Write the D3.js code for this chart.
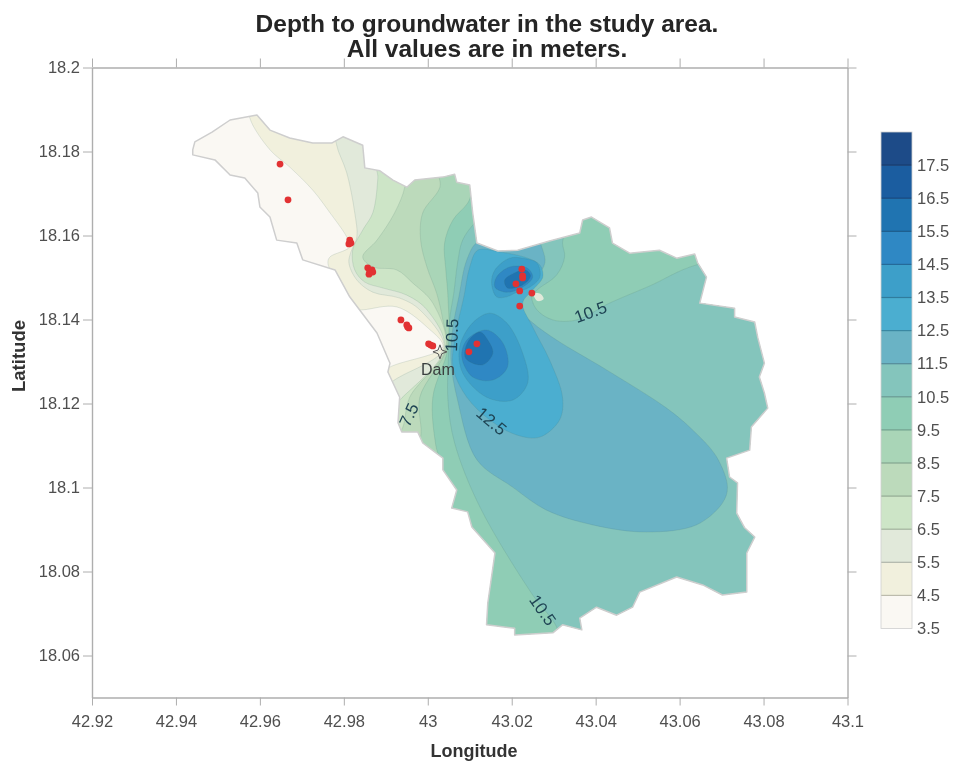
<!DOCTYPE html>
<html>
<head>
<meta charset="utf-8">
<script src="https://cdnjs.cloudflare.com/ajax/libs/d3/7.8.5/d3.min.js"></script>
<style>
html,body{margin:0;padding:0;background:#fff}
svg{display:block;filter:blur(0.45px)}
text{font-family:"Liberation Sans",Arial,sans-serif}
</style>
</head>
<body>
<svg id="chart" width="956" height="766"></svg>
<script>
const titleLines = ["Depth to groundwater in the study area.", "All values are in meters."];
const lonTicks = [42.92,42.94,42.96,42.98,43,43.02,43.04,43.06,43.08,43.1];
const latTicks = [18.2,18.18,18.16,18.14,18.12,18.1,18.08,18.06];
const levels = [3.5,4.5,5.5,6.5,7.5,8.5,9.5,10.5,11.5,12.5,13.5,14.5,15.5,16.5,17.5];
const bandColors = ["#faf8f3","#f1f0dd","#e1e9da","#cde5c7","#bcdabb","#a9d5b7","#8fcdb5","#84c5bc","#6ab3c5","#4baed0","#3d9fc9","#2f88c4","#2074b1","#1b5da0","#1d4b88"];

const boundary = [[42.9440,18.1804],[42.9445,18.1823],[42.9486,18.1846],[42.9529,18.1875],[42.9593,18.1887],[42.9624,18.1851],[42.9671,18.1832],[42.9726,18.1820],[42.9771,18.1820],[42.9798,18.1835],[42.9845,18.1815],[42.9850,18.1761],[42.9886,18.1754],[42.9917,18.1732],[42.9950,18.1715],[42.9969,18.1732],[43.0036,18.1739],[43.0064,18.1746],[43.0069,18.1727],[43.0100,18.1720],[43.0107,18.1654],[43.0117,18.1582],[43.0167,18.1563],[43.0214,18.1565],[43.0290,18.1587],[43.0362,18.1606],[43.0369,18.1637],[43.0390,18.1644],[43.0433,18.1618],[43.0440,18.1582],[43.0481,18.1558],[43.0552,18.1565],[43.0593,18.1546],[43.0636,18.1556],[43.0643,18.1535],[43.0664,18.1501],[43.0648,18.1439],[43.0731,18.1427],[43.0731,18.1406],[43.0779,18.1394],[43.0786,18.1358],[43.0802,18.1296],[43.0790,18.1263],[43.0802,18.1225],[43.0810,18.1189],[43.0771,18.1144],[43.0767,18.1089],[43.0712,18.1070],[43.0719,18.1025],[43.0738,18.1011],[43.0736,18.0939],[43.0755,18.0904],[43.0779,18.0882],[43.0760,18.0844],[43.0760,18.0751],[43.0702,18.0744],[43.0655,18.0768],[43.0593,18.0787],[43.0505,18.0751],[43.0488,18.0715],[43.0450,18.0696],[43.0402,18.0715],[43.0362,18.0689],[43.0367,18.0661],[43.0321,18.0673],[43.0298,18.0654],[43.0207,18.0649],[43.0207,18.0665],[43.0140,18.0673],[43.0143,18.0725],[43.0160,18.0844],[43.0105,18.0906],[43.0095,18.0942],[43.0057,18.0951],[43.0069,18.0994],[43.0036,18.1042],[43.0036,18.1070],[42.9988,18.1106],[42.9976,18.1132],[42.9938,18.1132],[42.9929,18.1154],[42.9933,18.1215],[42.9905,18.1275],[42.9910,18.1296],[42.9879,18.1368],[42.9814,18.1454],[42.9779,18.1518],[42.9702,18.1542],[42.9688,18.1582],[42.9640,18.1589],[42.9624,18.1644],[42.9600,18.1668],[42.9595,18.1701],[42.9564,18.1737],[42.9529,18.1744],[42.9493,18.1780],[42.9440,18.1792]];

// Points beyond the catchment that close the westward contours around its east side
const outerEast = [[42.9886,18.0970],[43.0124,18.0494],[43.0886,18.0494],[43.0886,18.1923]];

const contour4_5 = [[42.9576,18.1923],[42.9576,18.1880],[42.9624,18.1804],[42.9671,18.1763],[42.9726,18.1708],[42.9767,18.1654],[42.9807,18.1596],[42.9814,18.1573],[42.9767,18.1549],[42.9762,18.1535],[42.9779,18.1494],[42.9814,18.1423],[42.9845,18.1423],[42.9926,18.1430],[42.9998,18.1382],[43.0036,18.1335],[42.9910,18.1287],[42.9862,18.1256]];
const contour5_5 = [[42.9783,18.1851],[42.9783,18.1815],[42.9807,18.1749],[42.9826,18.1654],[42.9831,18.1596],[42.9817,18.1561],[42.9812,18.1535],[42.9831,18.1494],[42.9869,18.1465],[42.9933,18.1451],[42.9981,18.1423],[43.0038,18.1332],[42.9914,18.1251],[42.9874,18.1208]];
const contour6_5 = [[42.9881,18.1780],[42.9881,18.1737],[42.9869,18.1654],[42.9845,18.1613],[42.9821,18.1565],[42.9826,18.1518],[42.9850,18.1489],[42.9893,18.1475],[42.9950,18.1458],[42.9998,18.1423],[43.0040,18.1332],[42.9933,18.1208],[42.9898,18.1173]];
const contour7_5 = [[42.9945,18.1756],[42.9945,18.1715],[42.9921,18.1654],[42.9879,18.1589],[42.9845,18.1549],[42.9869,18.1525],[42.9926,18.1518],[42.9964,18.1487],[43.0012,18.1439],[43.0043,18.1332],[42.9957,18.1215],[42.9940,18.1142],[42.9910,18.1089]];
const contour8_5 = [[43.0029,18.1768],[43.0029,18.1715],[42.9988,18.1654],[42.9983,18.1589],[42.9998,18.1525],[43.0021,18.1463],[43.0036,18.1399],[43.0045,18.1332],[42.9981,18.1215],[42.9983,18.1120],[42.9957,18.1066]];
const contour9_5 = [[43.0124,18.1732],[43.0095,18.1677],[43.0060,18.1637],[43.0040,18.1582],[43.0043,18.1518],[43.0048,18.1454],[43.0048,18.1332],[43.0012,18.1215],[43.0019,18.1101],[43.0033,18.1042],[43.0005,18.0994]];
const contour10_5 = [[43.0148,18.1661],[43.0112,18.1630],[43.0083,18.1589],[43.0071,18.1535],[43.0062,18.1463],[43.0052,18.1399],[43.0050,18.1332],[43.0048,18.1208],[43.0064,18.1106],[43.0124,18.0954],[43.0250,18.0744],[43.0307,18.0668],[43.0326,18.0589],[43.0886,18.0589],[43.0886,18.1565],[43.0640,18.1530],[43.0529,18.1480],[43.0433,18.1439],[43.0355,18.1399],[43.0298,18.1399],[43.0260,18.1423],[43.0248,18.1454],[43.0260,18.1470],[43.0307,18.1506],[43.0326,18.1549],[43.0321,18.1582],[43.0326,18.1625]];
const contour11_5 = [[43.0195,18.1601],[43.0119,18.1585],[43.0093,18.1542],[43.0074,18.1454],[43.0060,18.1382],[43.0055,18.1304],[43.0071,18.1208],[43.0117,18.1066],[43.0202,18.1001],[43.0283,18.0946],[43.0393,18.0911],[43.0521,18.0894],[43.0640,18.0911],[43.0702,18.0963],[43.0714,18.1001],[43.0688,18.1073],[43.0631,18.1137],[43.0569,18.1189],[43.0426,18.1280],[43.0307,18.1351],[43.0250,18.1392],[43.0219,18.1423],[43.0214,18.1446],[43.0231,18.1470],[43.0260,18.1501],[43.0279,18.1535],[43.0274,18.1565],[43.0255,18.1601]];
const contour12_5 = [[43.0119,18.1565],[43.0100,18.1525],[43.0086,18.1454],[43.0067,18.1368],[43.0060,18.1287],[43.0093,18.1215],[43.0148,18.1161],[43.0212,18.1125],[43.0267,18.1120],[43.0314,18.1161],[43.0321,18.1215],[43.0290,18.1304],[43.0250,18.1382],[43.0226,18.1439],[43.0250,18.1470],[43.0274,18.1501],[43.0267,18.1530],[43.0238,18.1546],[43.0171,18.1561]];
const contour13_5south = [[43.0148,18.1415],[43.0107,18.1392],[43.0076,18.1335],[43.0083,18.1273],[43.0140,18.1215],[43.0202,18.1208],[43.0238,18.1249],[43.0226,18.1320],[43.0188,18.1392]];
const contour14_5south = [[43.0140,18.1375],[43.0093,18.1351],[43.0081,18.1311],[43.0107,18.1263],[43.0155,18.1256],[43.0190,18.1287],[43.0179,18.1344]];
const contour15_5south = [[43.0124,18.1370],[43.0095,18.1346],[43.0090,18.1308],[43.0131,18.1292],[43.0155,18.1320],[43.0143,18.1351]];
const contour13_5north = [[43.0195,18.1546],[43.0160,18.1518],[43.0152,18.1487],[43.0164,18.1454],[43.0188,18.1454],[43.0212,18.1465],[43.0243,18.1477],[43.0267,18.1501],[43.0260,18.1535],[43.0226,18.1546]];
const contour14_5north = [[43.0195,18.1525],[43.0164,18.1501],[43.0160,18.1477],[43.0188,18.1465],[43.0226,18.1477],[43.0250,18.1501],[43.0236,18.1523]];
const contour15_5north = [[43.0207,18.1511],[43.0183,18.1494],[43.0190,18.1475],[43.0226,18.1482],[43.0245,18.1504],[43.0233,18.1518]];
const lowSpot = [[43.0252,18.1461],[43.0269,18.1461],[43.0276,18.1449],[43.0262,18.1444]];

const wells = [[42.9648,18.1770],[42.9667,18.1685],[42.9814,18.1589],[42.9817,18.1582],[42.9812,18.1580],[42.9857,18.1523],[42.9862,18.1515],[42.9867,18.1518],[42.9860,18.1508],[42.9869,18.1513],[42.9936,18.1399],[42.9950,18.1387],[42.9952,18.1382],[42.9955,18.1380],[43.0007,18.1339],[43.0012,18.1337],[43.0002,18.1342],[43.0117,18.1342],[43.0098,18.1323],[43.0224,18.1520],[43.0226,18.1504],[43.0226,18.1499],[43.0210,18.1485],[43.0219,18.1468],[43.0248,18.1463],[43.0219,18.1432]];
const damSite = [43.0029,18.1323];
const contourLabelText = ["10.5","7.5","12.5","10.5","10.5"];
const contourLabelPos = [[43.0057,18.1363],[42.9955,18.1173],[43.0152,18.1158],[43.0388,18.1418],[43.0274,18.0708]];
const contourLabelAngle = [-88,-65,40,-20,55];

const svg = d3.select("#chart");
const x = d3.scaleLinear().domain([42.92,43.1]).range([92,847.5]);
const y = d3.scaleLinear().domain([18.05,18.2]).range([697.5,67.5]);
const project = d3.line().x(d=>x(d[0])).y(d=>y(d[1]));
const smooth = d3.line().x(d=>x(d[0])).y(d=>y(d[1])).curve(d3.curveCatmullRomClosed.alpha(0.5));
const axisColor = "#aeaeae", tickText = "#4f4f4f";

svg.append("clipPath").attr("id","catch").append("path").attr("d",project(boundary)+"Z");

// Filled bands painted from the lowest level upward
const plot = svg.append("g").attr("clip-path","url(#catch)");
plot.append("path").attr("d",project(boundary)+"Z").attr("fill",bandColors[0]);
const regions = [
  [contour4_5.concat(outerEast),1],[contour5_5.concat(outerEast),2],[contour6_5.concat(outerEast),3],
  [contour7_5.concat(outerEast),4],[contour8_5.concat(outerEast),5],[contour9_5.concat(outerEast),6],
  [contour10_5,7],[contour11_5,8],[contour12_5,9],
  [contour13_5south,10],[contour14_5south,11],[contour15_5south,12],
  [contour13_5north,10],[contour14_5north,11],[contour15_5north,12]
];
plot.selectAll("path.band").data(regions).join("path").attr("class","band")
  .attr("d",d=>smooth(d[0])).attr("fill",d=>bandColors[d[1]])
  .attr("stroke","#4a6f68").attr("stroke-opacity",0.16).attr("stroke-width",0.9);
plot.append("path").attr("d",smooth(lowSpot)).attr("fill",bandColors[2]);

// Catchment outline
svg.append("path").attr("d",project(boundary)+"Z").attr("fill","none").attr("stroke","#cecece").attr("stroke-width",1.5).attr("stroke-linejoin","round");

// Axes
const styleAxis = g => { g.selectAll("path").attr("stroke",axisColor).attr("stroke-width",1.4);
  g.selectAll("line").attr("stroke",axisColor).attr("stroke-width",1);
  g.selectAll("text").attr("fill",tickText).attr("font-size",16.5).attr("font-family","Liberation Sans"); };
const fmt = d=>String(+d.toFixed(2));
svg.append("g").attr("transform","translate(0,67.5)").call(d3.axisTop(x).tickValues(lonTicks).tickSizeInner(9).tickSizeOuter(0).tickFormat("")).call(styleAxis);
svg.append("g").attr("transform","translate(847.5,0)").call(d3.axisRight(y).tickValues(latTicks).tickSizeInner(9).tickSizeOuter(0).tickFormat("")).call(styleAxis);
svg.append("g").attr("transform","translate(0,697.5)").call(d3.axisBottom(x).tickValues(lonTicks).tickSizeInner(8).tickSizeOuter(0).tickPadding(10).tickFormat(fmt)).call(styleAxis);
svg.append("g").attr("transform","translate(92,0)").call(d3.axisLeft(y).tickValues(latTicks).tickSizeInner(9).tickSizeOuter(0).tickPadding(3).tickFormat(fmt)).call(styleAxis);

// Contour labels
svg.selectAll("text.clab").data(contourLabelText).join("text").attr("class","clab")
  .attr("transform",(d,i)=>`translate(${x(contourLabelPos[i][0])},${y(contourLabelPos[i][1])}) rotate(${contourLabelAngle[i]})`)
  .attr("text-anchor","middle").attr("dy","0.35em").attr("font-size",17).attr("fill","#1e4353").text(d=>d);

// Wells
svg.selectAll("circle.well").data(wells).join("circle").attr("class","well")
  .attr("cx",d=>x(d[0])).attr("cy",d=>y(d[1])).attr("r",3.4).attr("fill","#e23233");

// Dam marker
const starPts = d3.range(8).map(i=>[i*Math.PI/4,i%2?2.6:7]);
svg.append("path").attr("transform",`translate(${x(damSite[0])},${y(damSite[1])})`)
  .attr("d",d3.lineRadial().curve(d3.curveLinearClosed)(starPts)).attr("fill","none").attr("stroke","#555").attr("stroke-width",1);
svg.append("text").attr("x",x(damSite[0])-2).attr("y",y(damSite[1])+23).attr("text-anchor","middle").attr("font-size",16).attr("fill","#3a3f3f").text("Dam");

// Colour bar
const cb = d3.scaleLinear().domain([3.5,18.5]).range([628.5,132]);
svg.selectAll("rect.leg").data(levels).join("rect").attr("class","leg")
  .attr("x",881).attr("width",31).attr("y",d=>cb(d+1)).attr("height",d=>cb(d)-cb(d+1))
  .attr("fill",(d,i)=>bandColors[i]);
svg.selectAll("line.leg").data(levels.slice(1)).join("line").attr("class","leg")
  .attr("x1",881).attr("x2",912).attr("y1",d=>cb(d)).attr("y2",d=>cb(d))
  .attr("stroke",(d,i)=>d3.color(bandColors[i+1]).darker(0.7)).attr("stroke-width",1.2);
svg.append("rect").attr("x",881).attr("y",cb(18.5)).attr("width",31).attr("height",cb(3.5)-cb(18.5)).attr("fill","none").attr("stroke","#cfcfcf").attr("stroke-width",0.8);
svg.selectAll("text.leg").data(levels).join("text").attr("class","leg")
  .attr("x",917).attr("y",d=>cb(d)).attr("dy","0.35em").attr("font-size",16.5).attr("fill",tickText).text(d=>d.toFixed(1));

// Titles
svg.selectAll("text.title").data(titleLines).join("text").attr("class","title")
  .attr("x",487).attr("y",(d,i)=>32+i*25).attr("text-anchor","middle").attr("font-size",24.5).attr("font-weight","bold").attr("fill","#252525").text(d=>d);
svg.append("text").attr("x",474).attr("y",757).attr("text-anchor","middle").attr("font-size",18).attr("font-weight","bold").attr("fill","#333").text("Longitude");
svg.append("text").attr("transform","translate(25,356) rotate(-90)").attr("text-anchor","middle").attr("font-size",18.5).attr("font-weight","bold").attr("fill","#333").text("Latitude");
</script>
</body>
</html>
